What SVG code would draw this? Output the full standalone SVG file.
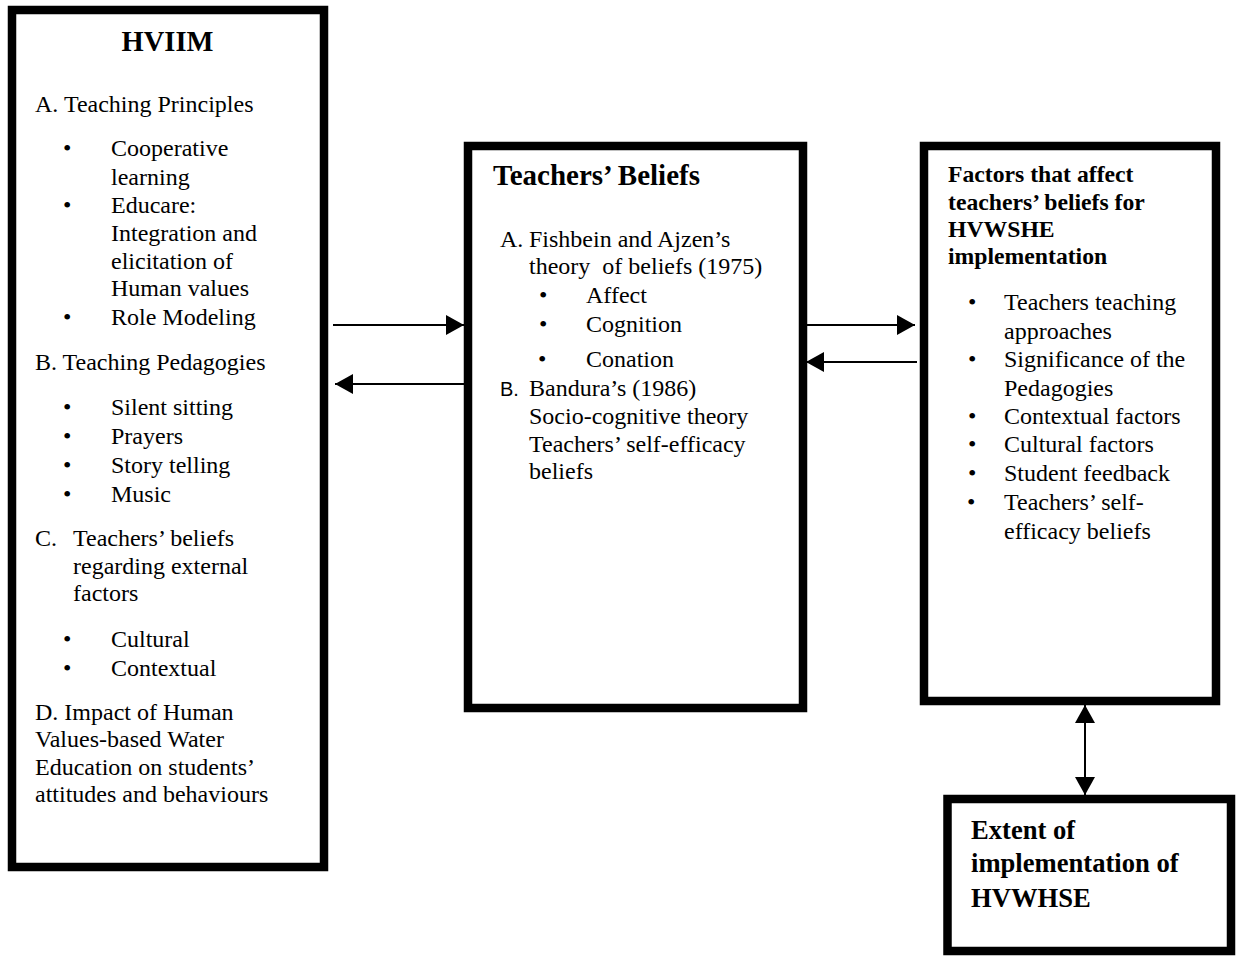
<svg xmlns="http://www.w3.org/2000/svg" width="1237" height="958" viewBox="0 0 1237 958">
  <style>
    .box { fill: #ffffff; stroke: #000000; stroke-width: 8.5; }
    .t { font-family: "Liberation Serif", "Times New Roman", serif; font-size: 24px; fill: #000000; }
    .b { font-family: "Liberation Serif", "Times New Roman", serif; font-weight: bold; fill: #000000; }
    .s { font-family: "Liberation Sans", Arial, sans-serif; font-size: 20px; fill: #000000; }
    .conn { stroke: #000000; stroke-width: 2; fill: none; }
  </style>
  <defs>
    <marker id="head" markerUnits="userSpaceOnUse" markerWidth="20" markerHeight="22" refX="18" refY="10" orient="auto-start-reverse">
      <path d="M0,0 L18,10 L0,20 Z" fill="#000000"/>
    </marker>
  </defs>

  <rect width="1237" height="958" fill="#ffffff"/>

  <!-- HVIIM model -->
  <g id="node-hviim">
    <rect class="box" x="12" y="10" width="312" height="857"/>
    <text class="b" x="167.5" y="50.5" font-size="28.5" text-anchor="middle">HVIIM</text>
    <text class="t" x="35" y="112">A. Teaching Principles</text>
    <text class="t" x="63" y="156">•</text><text class="t" x="111" y="156">Cooperative</text>
    <text class="t" x="111" y="184.5">learning</text>
    <text class="t" x="63" y="212.5">•</text><text class="t" x="111" y="212.5">Educare:</text>
    <text class="t" x="111" y="240.5">Integration and</text>
    <text class="t" x="111" y="268.5">elicitation of</text>
    <text class="t" x="111" y="296">Human values</text>
    <text class="t" x="63" y="324.5">•</text><text class="t" x="111" y="324.5">Role Modeling</text>
    <text class="t" x="35" y="369.5">B. Teaching Pedagogies</text>
    <text class="t" x="63" y="415">•</text><text class="t" x="111" y="415">Silent sitting</text>
    <text class="t" x="63" y="443.5">•</text><text class="t" x="111" y="443.5">Prayers</text>
    <text class="t" x="63" y="472.5">•</text><text class="t" x="111" y="472.5">Story telling</text>
    <text class="t" x="63" y="501.5">•</text><text class="t" x="111" y="501.5">Music</text>
    <text class="t" x="35" y="545.5">C.</text><text class="t" x="73" y="545.5">Teachers’ beliefs</text>
    <text class="t" x="73" y="573.5">regarding external</text>
    <text class="t" x="73" y="601">factors</text>
    <text class="t" x="63" y="646.5">•</text><text class="t" x="111" y="646.5">Cultural</text>
    <text class="t" x="63" y="675.5">•</text><text class="t" x="111" y="675.5">Contextual</text>
    <text class="t" x="35" y="720">D. Impact of Human</text>
    <text class="t" x="35" y="747">Values-based Water</text>
    <text class="t" x="35" y="774.5">Education on students’</text>
    <text class="t" x="35" y="802">attitudes and behaviours</text>
  </g>

  <!-- Teachers' beliefs -->
  <g id="node-beliefs">
    <rect class="box" x="468" y="146" width="335" height="562"/>
    <text class="b" x="493" y="185" font-size="29">Teachers’ Beliefs</text>
    <text class="t" x="500" y="246.5">A.</text><text class="t" x="529" y="246.5">Fishbein and Ajzen’s</text>
    <text class="t" x="529" y="273.5" xml:space="preserve">theory  of beliefs (1975)</text>
    <text class="t" x="539" y="303">•</text><text class="t" x="586" y="303">Affect</text>
    <text class="t" x="539" y="331.5">•</text><text class="t" x="586" y="331.5">Cognition</text>
    <text class="t" x="538" y="367" font-size="29">•</text><text class="t" x="586" y="367">Conation</text>
    <text class="s" x="500" y="396">B.</text><text class="t" x="529" y="396">Bandura’s (1986)</text>
    <text class="t" x="529" y="424">Socio-cognitive theory</text>
    <text class="t" x="529" y="451.5">Teachers’ self-efficacy</text>
    <text class="t" x="529" y="478.5">beliefs</text>
  </g>

  <!-- Factors affecting beliefs -->
  <g id="node-factors">
    <rect class="box" x="924" y="146" width="292" height="555"/>
    <text class="b" x="948" y="181.5" font-size="23.7">Factors that affect</text>
    <text class="b" x="948" y="209.5" font-size="23.7">teachers’ beliefs for</text>
    <text class="b" x="948" y="236.5" font-size="23.7">HVWSHE</text>
    <text class="b" x="948" y="263.5" font-size="23.7">implementation</text>
    <text class="t" x="968" y="310">•</text><text class="t" x="1004" y="310">Teachers teaching</text>
    <text class="t" x="1004" y="338.5">approaches</text>
    <text class="t" x="968" y="367">•</text><text class="t" x="1004" y="367">Significance of the</text>
    <text class="t" x="1004" y="395.5">Pedagogies</text>
    <text class="t" x="968" y="423.5">•</text><text class="t" x="1004" y="423.5">Contextual factors</text>
    <text class="t" x="968" y="452">•</text><text class="t" x="1004" y="452">Cultural factors</text>
    <text class="t" x="968" y="480.5">•</text><text class="t" x="1004" y="480.5">Student feedback</text>
    <text class="t" x="967" y="510" font-size="29">•</text><text class="t" x="1004" y="510">Teachers’ self-</text>
    <text class="t" x="1004" y="538.5">efficacy beliefs</text>
  </g>

  <!-- Extent of implementation -->
  <g id="node-extent">
    <rect class="box" x="947.5" y="799" width="283.5" height="152"/>
    <text class="b" x="971" y="838.5" font-size="26.6">Extent of</text>
    <text class="b" x="971" y="872" font-size="26.6">implementation of</text>
    <text class="b" x="971" y="906.5" font-size="26.6">HVWHSE</text>
  </g>

  <!-- Connectors -->
  <g id="connectors">
    <line class="conn" x1="333" y1="325" x2="464" y2="325" marker-end="url(#head)"/>
    <line class="conn" x1="464" y1="384" x2="335" y2="384" marker-end="url(#head)"/>
    <line class="conn" x1="807" y1="325" x2="915" y2="325" marker-end="url(#head)"/>
    <line class="conn" x1="917" y1="362" x2="806" y2="362" marker-end="url(#head)"/>
    <line class="conn" x1="1085" y1="705" x2="1085" y2="795" marker-start="url(#head)" marker-end="url(#head)"/>
  </g>
</svg>
